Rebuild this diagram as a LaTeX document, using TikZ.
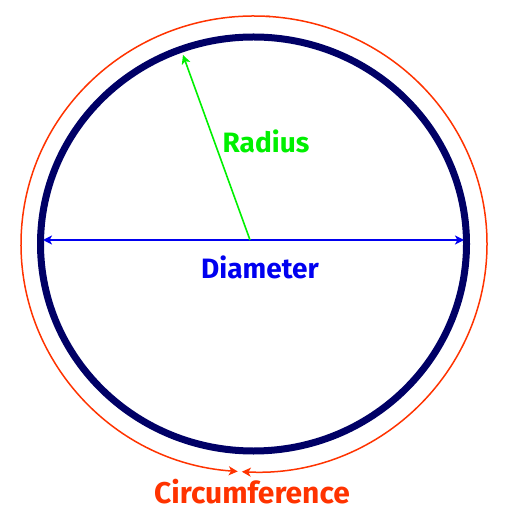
\documentclass[tikz,border=0pt]{standalone}
\usepackage{fontspec}
\setmainfont{Fira Sans}
\usetikzlibrary{arrows.meta}
\definecolor{rimnavy}{RGB}{0,0,102}
\definecolor{circred}{RGB}{255,51,0}
\definecolor{radgreen}{RGB}{0,240,0}
\definecolor{diamblue}{RGB}{0,0,240}

\begin{document}
\begin{tikzpicture}[x=0.5pt, y=-0.5pt, >={Stealth[length=4.5pt,width=4.5pt,inset=1.2pt]},
    lbl/.style={font=\fontsize{14}{16}\selectfont\bfseries}]
    \useasboundingbox (0,0) rectangle (512,512);
    \coordinate (c) at (250,240);
    % Circle
    \draw[rimnavy, line width=3.5pt] (253.5,244) ellipse [x radius=213, y radius=207];
    % Circumference
    \coordinate (cl) at ([shift={(94:233 and 228)}]254,244);
    \coordinate (cr) at ([shift={(93:233 and 228)}]254,244);
    \draw[circred, line width=0.75pt, <-] (cl) arc[start angle=94, end angle=274, x radius=233, y radius=228];
    \draw[circred, line width=0.75pt, <-] (cr) arc[start angle=93, end angle=-87, x radius=233, y radius=228];
    \node[circred, lbl, font=\fontsize{15}{17}\selectfont\bfseries] (circ) at (252,492) {Circumference};
    % Diameter
    \coordinate (dl) at (43,240);
    \coordinate (dr) at (464,240);
    \draw[diamblue, line width=1pt, <->] (dl) -- (dr);
    \node[diamblue, lbl] (diam) at (260,267) {Diameter};
    % Radius
    \coordinate (rtip) at (183,55);
    \draw[radgreen, line width=0.8pt, ->] (c) -- (rtip);
    \node[radgreen, lbl] (rad) at (266,141) {Radius};
\end{tikzpicture}
\end{document}
